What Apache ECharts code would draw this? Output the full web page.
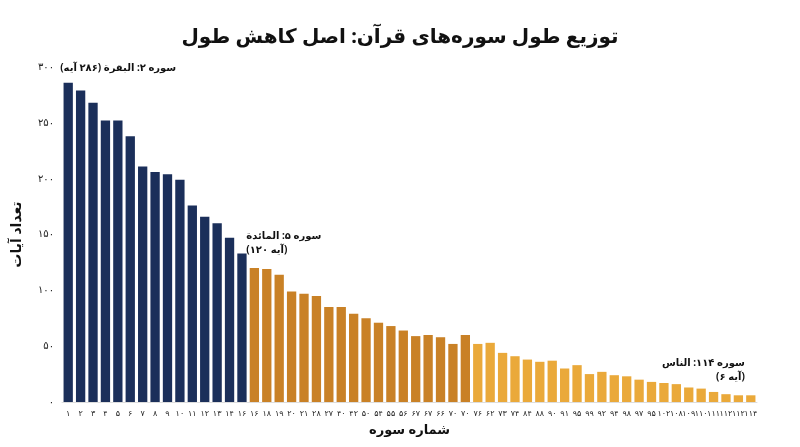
<!DOCTYPE html>
<html><head><meta charset="utf-8">
<script src="https://cdn.jsdelivr.net/npm/echarts@6/dist/echarts.min.js"></script>
<style>html,body{margin:0;padding:0;background:#fff}#c{width:800px;height:447px}</style>
</head><body><div id="c"></div>
<script>
const categories = ['۱','۲','۳','۴','۵','۶','۷','۸','۹','۱۰','۱۱','۱۲','۱۳','۱۴','۱۶','۱۶','۱۸','۱۹','۲۰','۲۱','۲۸','۲۷','۴۰','۴۲','۵۰','۵۴','۵۵','۵۶','۶۷','۶۷','۶۶','۷۰','۷۰','۷۶','۶۲','۷۳','۷۴','۸۴','۸۸','۹۰','۹۱','۹۵','۹۹','۹۲','۹۴','۹۸','۹۷','۹۵','۱۰۲','۱۰۸','۱۰۹','۱۱۰','۱۱۱','۱۱۲','۱۱۲','۱۱۴'];
const values = [286,279,268,252,252,238,211,206,204,199,176,166,160,147,133,
  120,119,114,99,97,95,85,85,79,75,71,68,64,59,60,58,52,60,52,53,44,
  41,38,36,37,30,33,25,27,24,23,20,18,17,16,13,12,9,7,6,6];
const groups = [15,18]; // blue count, dark orange count; rest light orange
const yTicks = {0:'۰',50:'۵۰',100:'۱۰۰',150:'۱۵۰',200:'۲۰۰',250:'۲۵۰',300:'۳۰۰'};
const font = "'Noto Sans', 'DejaVu Sans', sans-serif";
const data = values.map((v,i)=>{
  let c = i<groups[0] ? '#1b2f5a' : (i<groups[0]+groups[1] ? '#c98126' : '#eaa93a');
  const d = {value:v, itemStyle:{color:c}};
  return d;
});
const ann = (text)=>({show:true,position:'top',formatter:text,color:'#111',fontSize:10,fontWeight:'bold',fontFamily:font,lineHeight:14,align:'left'});
data[0].label = Object.assign(ann('سوره ۲: البقرة (۲۸۶ آیه)'),{offset:[-8,-2],align:'left'});
data[15].label = Object.assign(ann('سوره ۵: المائدة\n(۱۲۰ آیه)'),{offset:[-8,-6],align:'left'});
data[values.length-1].label = Object.assign(ann('سوره ۱۱۴: الناس\n(۶ آیه)'),{offset:[-6,-6],align:'right'});
const chart = echarts.init(document.getElementById('c'));
chart.setOption({
  animation:false,
  title:{text:'توزیع طول سوره‌های قرآن: اصل کاهش طول',left:'center',top:22,textStyle:{fontFamily:font,fontSize:20,fontWeight:'bold',color:'#111'}},
  grid:{left:62,right:43,top:67,bottom:45},
  xAxis:{type:'category',data:categories,name:'شماره سوره',nameLocation:'middle',nameGap:22,
    nameTextStyle:{fontFamily:font,fontSize:13,fontWeight:'bold',color:'#111'},
    axisTick:{show:false},axisLine:{lineStyle:{color:'#ddd'}},
    axisLabel:{interval:0,fontSize:8,color:'#222',fontFamily:font}},
  yAxis:{type:'value',min:0,max:300,interval:50,name:'تعداد آیات',nameLocation:'middle',nameGap:38,nameRotate:90,
    nameTextStyle:{fontFamily:font,fontSize:14,fontWeight:'bold',color:'#111'},
    splitLine:{show:false},axisLine:{show:false},axisTick:{show:false},
    axisLabel:{fontSize:10,color:'#222',fontFamily:font,formatter:v=>yTicks[v]}},
  series:[{type:'bar',data:data,barCategoryGap:'25%'}]
});
</script></body></html>
